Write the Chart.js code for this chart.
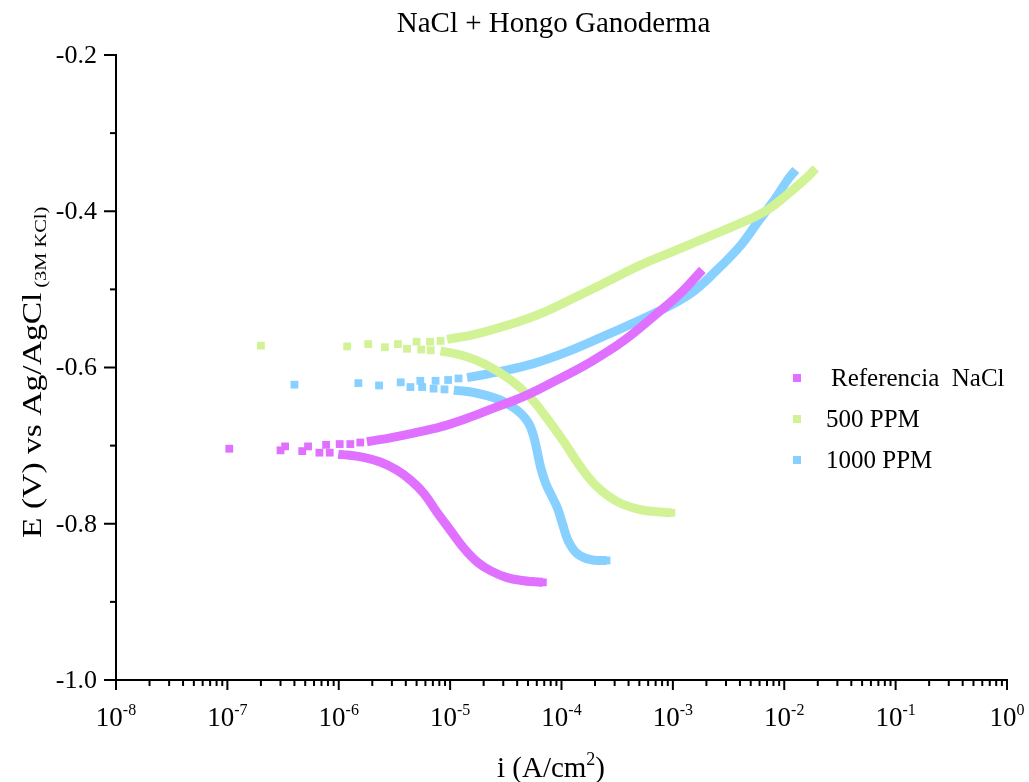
<!DOCTYPE html>
<html>
<head>
<meta charset="utf-8">
<title>NaCl + Hongo Ganoderma</title>
<script src="https://cdn.jsdelivr.net/npm/chart.js@4.4.1/dist/chart.umd.min.js"></script>
<style>
  html, body { margin: 0; padding: 0; background: #fff; }
  #wrap { width: 1029px; height: 782px; }
</style>
</head>
<body>
<div id="wrap"><canvas id="tafel" width="1029" height="782"></canvas></div>
<script>
// Curvas de Tafel: [i (A/cm2), E (V)]
// cada serie: rama catódica, puntos sueltos cerca de Ecorr, rama anódica
const refCathodic = [
    [6.8e-5, -0.875], [5.35e-5, -0.874], [4.6e-5, -0.873], [3.25e-5, -0.869], [2.3e-5, -0.860],
    [1.75e-5, -0.849], [1.32e-5, -0.831], [1.0e-5, -0.808], [7.6e-6, -0.785], [5.8e-6, -0.761],
    [4.4e-6, -0.744], [3.3e-6, -0.731], [2.36e-6, -0.721], [1.67e-6, -0.715], [1.19e-6, -0.712],
    [9.9e-7, -0.711]
];
const refNearCorr = [
    [8.3e-7, -0.709], [6.7e-7, -0.709], [4.7e-7, -0.707], [3.0e-7, -0.706], [1.04e-7, -0.704],
    [3.3e-7, -0.701], [5.3e-7, -0.701], [7.7e-7, -0.699], [1.02e-6, -0.698], [1.27e-6, -0.698],
    [1.56e-6, -0.696]
];
const refAnodic = [
    [1.79e-6, -0.695], [2.9e-6, -0.690], [4.7e-6, -0.684], [8.2e-6, -0.676], [1.42e-5, -0.665],
    [2.46e-5, -0.652], [4.6e-5, -0.637], [9.1e-5, -0.616], [1.82e-4, -0.593], [3.6e-4, -0.566],
    [7.2e-4, -0.531], [1.17e-3, -0.505], [1.84e-3, -0.475]
];

const ppm500Cathodic = [
    [9.7e-4, -0.786], [7.7e-4, -0.785], [5.1e-4, -0.782], [3.2e-4, -0.772], [2.1e-4, -0.753],
    [1.48e-4, -0.727], [1.05e-4, -0.695], [7.4e-5, -0.665], [5.3e-5, -0.639], [3.5e-5, -0.616],
    [2.15e-5, -0.597], [1.32e-5, -0.585], [8.2e-6, -0.579]
];
const ppm500NearCorr = [
    [6.7e-6, -0.578], [5.5e-6, -0.577], [4.1e-6, -0.576], [2.6e-6, -0.574], [1.19e-6, -0.573],
    [2.0e-7, -0.572], [1.84e-6, -0.570], [3.4e-6, -0.570], [5.0e-6, -0.567], [6.6e-6, -0.567],
    [8.2e-6, -0.566]
];
const ppm500Anodic = [
    [9.4e-6, -0.564], [1.63e-5, -0.558], [3.25e-5, -0.546], [6.5e-5, -0.531], [1.29e-4, -0.511],
    [2.58e-4, -0.490], [5.1e-4, -0.469], [1.02e-3, -0.451], [2.04e-3, -0.433], [4.1e-3, -0.415],
    [7.1e-3, -0.398], [1.14e-2, -0.375], [1.62e-2, -0.356], [1.92e-2, -0.345]
];

const ppm1000Cathodic = [
    [2.54e-4, -0.847], [1.82e-4, -0.846], [1.38e-4, -0.838], [1.15e-4, -0.822], [1.02e-4, -0.800],
    [9.2e-5, -0.780], [8.2e-5, -0.765], [7.2e-5, -0.748], [6.5e-5, -0.728], [6.0e-5, -0.705],
    [5.6e-5, -0.687], [5.1e-5, -0.672], [4.4e-5, -0.660], [3.5e-5, -0.649], [2.64e-5, -0.640],
    [1.63e-5, -0.632], [1.08e-5, -0.629]
];
const ppm1000NearCorr = [
    [8.9e-6, -0.628], [7.1e-6, -0.627], [5.6e-6, -0.625], [4.4e-6, -0.625], [2.3e-6, -0.623],
    [4.0e-7, -0.622], [1.5e-6, -0.620], [3.6e-6, -0.619], [5.4e-6, -0.617], [7.4e-6, -0.617],
    [9.6e-6, -0.616], [1.19e-5, -0.614]
];
const ppm1000Anodic = [
    [1.42e-5, -0.613], [2.83e-5, -0.605], [5.6e-5, -0.595], [1.12e-4, -0.580], [2.3e-4, -0.561],
    [7.2e-4, -0.529], [1.45e-3, -0.505], [2.5e-3, -0.475], [4.1e-3, -0.443], [5.7e-3, -0.415],
    [8.1e-3, -0.386], [1.07e-2, -0.360], [1.27e-2, -0.347]
];

// ejes
const potentialTicks = [-1.0, -0.9, -0.8, -0.7, -0.6, -0.5, -0.4, -0.3, -0.2];
const currentDecades = [-8, -7, -6, -5, -4, -3, -2, -1, 0];

const SERIF = '"Liberation Serif", "Times New Roman", serif';

// Une las tres partes; los puntos cerca de Ecorr quedan sueltos (sin línea)
function buildSeries(label, color, cathodic, nearCorr, anodic) {
    const data = [...cathodic, ...nearCorr, ...anodic].map(([i, e]) => ({ x: i, y: e }));
    const firstAnodic = cathodic.length + nearCorr.length;
    const solid = (a, b) => b < cathodic.length || a >= firstAnodic;
    const loose = (k) => k === 0 || (k >= cathodic.length && k < firstAnodic);
    return {
        label: label,
        data: data,
        showLine: true,
        borderColor: color,
        backgroundColor: color,
        borderWidth: 9,
        borderJoinStyle: "round",
        tension: 0.4,
        pointStyle: "rect",
        pointRadius: (c) => loose(c.dataIndex) ? 5.5 : 0,
        pointBorderWidth: 0,
        segment: {
            borderColor: (c) => solid(c.p0DataIndex, c.p1DataIndex) ? undefined : "rgba(0,0,0,0)"
        }
    };
}

// Dibuja marcas, etiquetas con exponentes, títulos y leyenda
const axisDecor = {
    id: "axisDecor",
    afterDraw(chart) {
        const { ctx, chartArea: area, scales: { x, y } } = chart;
        ctx.save();
        ctx.strokeStyle = "#000";
        ctx.fillStyle = "#000";
        ctx.lineWidth = 2;

        const seg = (x0, y0, x1, y1) => {
            ctx.beginPath();
            ctx.moveTo(x0, y0);
            ctx.lineTo(x1, y1);
            ctx.stroke();
        };

        // eje Y
        ctx.font = "26px " + SERIF;
        ctx.textAlign = "right";
        ctx.textBaseline = "middle";
        potentialTicks.forEach((v, k) => {
            const py = y.getPixelForValue(v);
            const major = k % 2 === 0;
            seg(area.left - (major ? 12 : 6), py, area.left, py);
            if (major) ctx.fillText(v.toFixed(1), area.left - 19, py + 1);
        });

        // eje X (logarítmico)
        currentDecades.forEach((e) => {
            const px = x.getPixelForValue(Math.pow(10, e));
            seg(px, area.bottom, px, area.bottom + 10);
            if (e < 0) {
                for (let m = 2; m <= 9; m++) {
                    const mx = x.getPixelForValue(m * Math.pow(10, e));
                    seg(mx, area.bottom, mx, area.bottom + 6);
                }
            }
            ctx.textAlign = "left";
            ctx.textBaseline = "alphabetic";
            ctx.font = "27px " + SERIF;
            const wBase = ctx.measureText("10").width;
            ctx.font = "16px " + SERIF;
            const sup = String(e);
            const wSup = ctx.measureText(sup).width;
            const left = px - (wBase + wSup) / 2;
            ctx.font = "27px " + SERIF;
            ctx.fillText("10", left, 726);
            ctx.font = "16px " + SERIF;
            ctx.fillText(sup, left + wBase, 715);
        });

        // título
        ctx.textAlign = "center";
        ctx.font = "29px " + SERIF;
        ctx.fillText("NaCl + Hongo Ganoderma", (area.left + area.right) / 2 - 8, 32);

        // título eje X: i (A/cm²)
        ctx.textAlign = "left";
        ctx.font = "29px " + SERIF;
        const a = "i (A/cm", c = ")";
        const wa = ctx.measureText(a).width, wc = ctx.measureText(c).width;
        ctx.font = "18px " + SERIF;
        const w2 = ctx.measureText("2").width;
        const xStart = 551 - (wa + w2 + wc) / 2;
        ctx.font = "29px " + SERIF;
        ctx.fillText(a, xStart, 777);
        ctx.fillText(c, xStart + wa + w2, 777);
        ctx.font = "18px " + SERIF;
        ctx.fillText("2", xStart + wa, 765);

        // título eje Y con subíndice
        ctx.save();
        ctx.translate(41, 538);
        ctx.rotate(-Math.PI / 2);
        ctx.scale(1.2, 1);
        ctx.font = "28px " + SERIF;
        const main = "E (V) vs Ag/AgCl";
        const wm = ctx.measureText(main).width;
        ctx.fillText(main, 0, 0);
        ctx.font = "17px " + SERIF;
        ctx.fillText("(3M KCl)", wm + 4, 4.5);
        ctx.restore();

        // leyenda
        ctx.font = "25px " + SERIF;
        ctx.textBaseline = "middle";
        const rows = [378, 419, 460];
        chart.data.datasets.forEach((ds, k) => {
            ctx.fillStyle = ds.backgroundColor;
            ctx.fillRect(793, rows[k] - 4, 8, 8);
            ctx.fillStyle = "#000";
            ctx.fillText(ds.label, k === 0 ? 831 : 826, rows[k] + 1);
        });

        ctx.restore();
    }
};

document.addEventListener("DOMContentLoaded", () => {
    const ctx = document.getElementById("tafel").getContext("2d");
    new Chart(ctx, {
        type: "scatter",
        data: {
            datasets: [
                buildSeries("Referencia  NaCl", "#E070FF", refCathodic, refNearCorr, refAnodic),
                buildSeries("500 PPM", "#D2F296", ppm500Cathodic, ppm500NearCorr, ppm500Anodic),
                buildSeries("1000 PPM", "#87D0FF", ppm1000Cathodic, ppm1000NearCorr, ppm1000Anodic)
            ]
        },
        options: {
            responsive: false,
            animation: false,
            layout: { padding: { top: 55, right: 22, left: 0, bottom: 0 } },
            plugins: {
                legend: { display: false },
                title: { display: false },
                tooltip: { enabled: false }
            },
            scales: {
                x: {
                    type: "logarithmic",
                    min: 1e-8,
                    max: 1,
                    grid: { display: false },
                    ticks: { display: false },
                    border: { display: true, color: "#000", width: 2 },
                    afterFit: (s) => { s.height = 102; }
                },
                y: {
                    type: "linear",
                    min: -1.0,
                    max: -0.2,
                    grid: { display: false },
                    ticks: { display: false },
                    border: { display: true, color: "#000", width: 2 },
                    afterFit: (s) => { s.width = 116; }
                }
            }
        },
        plugins: [axisDecor]
    });
});
</script>
</body>
</html>
